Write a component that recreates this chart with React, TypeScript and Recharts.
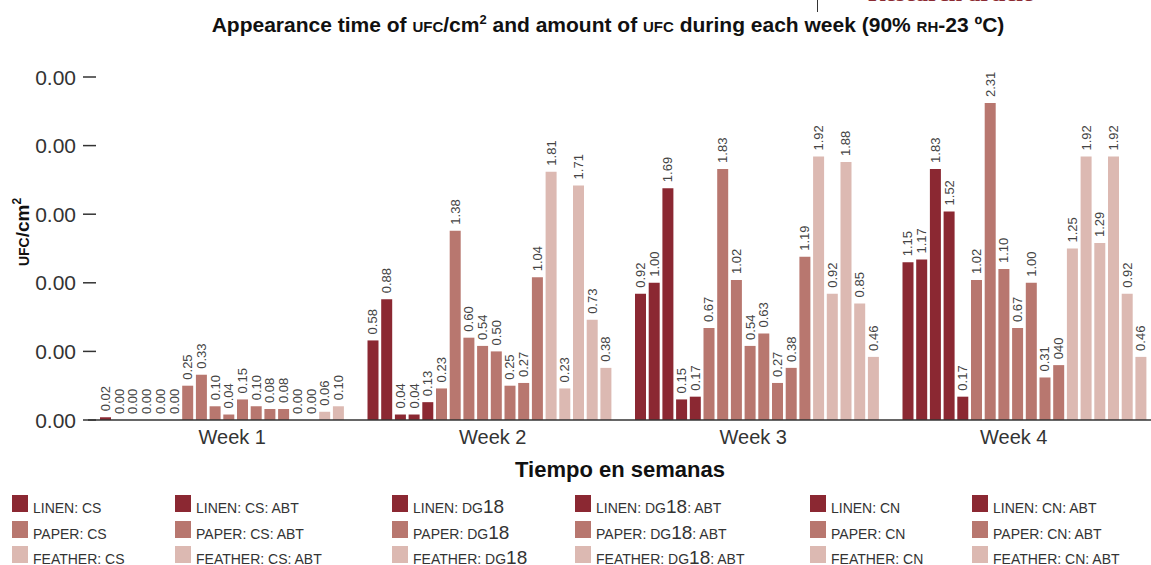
import { BarChart, Bar, XAxis, YAxis, Cell, LabelList } from 'recharts'

const weeks = ['Week 1', 'Week 2', 'Week 3', 'Week 4']

// bar values in drawing order inside each week
const week1 = [0.02, 0, 0, 0, 0, 0, 0.25, 0.33, 0.1, 0.04, 0.15, 0.1, 0.08, 0.08, 0, 0, 0.06, 0.1]
const week2 = [0.58, 0.88, 0.04, 0.04, 0.13, 0.23, 1.38, 0.6, 0.54, 0.5, 0.25, 0.27, 1.04, 1.81, 0.23, 1.71, 0.73, 0.38]
const week3 = [0.92, 1.0, 1.69, 0.15, 0.17, 0.67, 1.83, 1.02, 0.54, 0.63, 0.27, 0.38, 1.19, 1.92, 0.92, 1.88, 0.85, 0.46]
const week4 = [1.15, 1.17, 1.83, 1.52, 0.17, 1.02, 2.31, 1.1, 0.67, 1.0, 0.31, 0.4, 1.25, 1.92, 1.29, 1.92, 0.92, 0.46]
const weekValues = [week1, week2, week3, week4]

// how many bars of linen / paper / feather colour each week shows
const week1Groups = [6, 8, 4]
const week2Groups = [5, 8, 5]
const week3Groups = [5, 8, 5]
const week4Groups = [5, 7, 6]
const weekGroups = [week1Groups, week2Groups, week3Groups, week4Groups]

// printed label that differs from the value in the source
const labelOverrides: Record<string, string> = { '3-11': '040' }

const materials = ['LINEN', 'PAPER', 'FEATHER']
const treatments = ['CS', 'CS: ABT', 'DG18', 'DG18: ABT', 'CN', 'CN: ABT']
const materialColors = ['#8b2832', '#b8776f', '#dcb9b2']

const yTicks = [0, 0.5, 1, 1.5, 2, 2.5]
const yTickLabels = ['0.00', '0.00', '0.00', '0.00', '0.00', '0.00']

const seriesKeys = week1.map((_, i) => 's' + i)

const data = weeks.map((week, wi) => {
  const row: Record<string, any> = { week }
  weekValues[wi].forEach((v, i) => {
    row['s' + i] = v
  })
  return row
})

function materialOf(wi: number, i: number) {
  const groups = weekGroups[wi]
  let acc = 0
  for (let m = 0; m < groups.length; m++) {
    acc += groups[m]
    if (i < acc) return m
  }
  return groups.length - 1
}

const FONT = '"Liberation Sans", Arial, Helvetica, sans-serif'

function YTick(props: any) {
  const { x, y, index } = props
  return (
    <g>
      <line x1={x - 5} x2={x + 8} y1={y} y2={y} stroke="#333" strokeWidth={1.5} />
      <text x={x - 12} y={y} textAnchor="end" dominantBaseline="central" fontSize={21} fill="#333" fontFamily={FONT}>
        {yTickLabels[index]}
      </text>
    </g>
  )
}

// week names in the source sit a little inward from the bar groups
function XTick(props: any) {
  const { x, y, index, payload } = props
  const shift = (1.5 - index) * 7
  return (
    <text x={x + shift} y={y} dy="0.71em" textAnchor="middle" fontSize={20} fill="#333" fontFamily={FONT}>
      {payload.value}
    </text>
  )
}

function makeLabel(si: number) {
  return (props: any) => {
    const { x, y, width, height, index } = props
    const value = weekValues[index][si]
    const cx = Number(x) + Number(width) / 2
    const top = (value === 0 ? Number(y) + Number(height) : Number(y)) - 6
    const text = labelOverrides[index + '-' + si] ?? value.toFixed(2)
    return (
      <text
        x={cx}
        y={top}
        transform={`rotate(-90 ${cx} ${top})`}
        textAnchor="start"
        dominantBaseline="central"
        fontSize={13}
        fill="#444"
        fontFamily='"Liberation Sans Narrow", "Liberation Sans", Arial, sans-serif'
      >
        {text}
      </text>
    )
  }
}

function legendText(label: string) {
  return label.split(/(18)/).map((part, i) =>
    part === '18' ? (
      <span key={i} style={{ fontSize: 19 }}>
        18
      </span>
    ) : (
      <span key={i}>{part}</span>
    ),
  )
}

const legendColX = [12, 175, 392, 575, 810, 972]
const legendRowY = [495, 521, 546]

export default function App() {
  return (
    <div style={{ position: 'relative', width: 1151, height: 565, overflow: 'hidden', fontFamily: FONT, background: '#fff' }}>
      <style>{`body{margin:0}`}</style>

      {/* page header fragment */}
      <div style={{ position: 'absolute', left: 817, top: 0, width: 1, height: 12, background: '#333' }} />
      <div
        style={{
          position: 'absolute',
          left: 868,
          top: -19,
          fontFamily: '"Liberation Serif", serif',
          fontWeight: 'bold',
          fontSize: 24,
          lineHeight: 1,
          color: '#8b2a32',
          whiteSpace: 'nowrap',
        }}
      >
        Research article
      </div>

      <div
        style={{
          position: 'absolute',
          left: 0,
          width: 1216,
          top: 12,
          textAlign: 'center',
          fontWeight: 'bold',
          fontSize: 21,
          color: '#111',
          whiteSpace: 'nowrap',
        }}
      >
        Appearance time of <span style={{ fontSize: 15 }}>UFC</span>/cm<sup style={{ fontSize: 13 }}>2</sup> and amount of{' '}
        <span style={{ fontSize: 15 }}>UFC</span> during each week (90% <span style={{ fontSize: 15 }}>RH</span>-23 ºC)
      </div>

      <div
        style={{
          position: 'absolute',
          left: 22,
          top: 232,
          transform: 'translate(-50%, -50%) rotate(-90deg)',
          fontWeight: 'bold',
          fontSize: 19,
          color: '#111',
          whiteSpace: 'nowrap',
        }}
      >
        <span style={{ fontSize: 14 }}>UFC</span>/cm<sup style={{ fontSize: 12 }}>2</sup>
      </div>

      <div style={{ position: 'absolute', left: 0, top: 0 }}>
        <BarChart width={1165} height={565} data={data} margin={{ top: 77, right: 7, bottom: 115, left: 0 }} barSize={11} barGap={2.7}>
          <XAxis
            dataKey="week"
            height={30}
            axisLine={{ stroke: '#333', strokeWidth: 1.5 }}
            tickLine={false}
            tickMargin={4}
            tick={<XTick />}
          />
          <YAxis
            width={88}
            domain={[0, 2.5]}
            ticks={yTicks}
            axisLine={false}
            tickLine={false}
            tickSize={0}
            tickMargin={0}
            tick={<YTick />}
          />
          {seriesKeys.map((key, si) => (
            <Bar key={key} dataKey={key} isAnimationActive={false} minPointSize={1}>
              {data.map((_, wi) => (
                <Cell key={wi} fill={weekValues[wi][si] === 0 ? 'none' : materialColors[materialOf(wi, si)]} />
              ))}
              <LabelList dataKey={key} content={makeLabel(si)} />
            </Bar>
          ))}
        </BarChart>
      </div>

      <div style={{ position: 'absolute', left: 0, width: 1240, top: 457, textAlign: 'center', fontWeight: 'bold', fontSize: 22, color: '#111' }}>
        Tiempo en semanas
      </div>

      {materials.map((m, mi) =>
        treatments.map((t, ti) => (
          <div
            key={m + t}
            style={{
              position: 'absolute',
              left: legendColX[ti],
              top: legendRowY[mi],
              display: 'flex',
              alignItems: 'flex-end',
              whiteSpace: 'nowrap',
            }}
          >
            <div style={{ width: 16, height: 17, background: materialColors[mi], marginRight: 5 }} />
            <div style={{ fontSize: 14, color: '#333', lineHeight: '15px', position: 'relative', top: 4 }}>{legendText(m + ': ' + t)}</div>
          </div>
        )),
      )}
    </div>
  )
}
